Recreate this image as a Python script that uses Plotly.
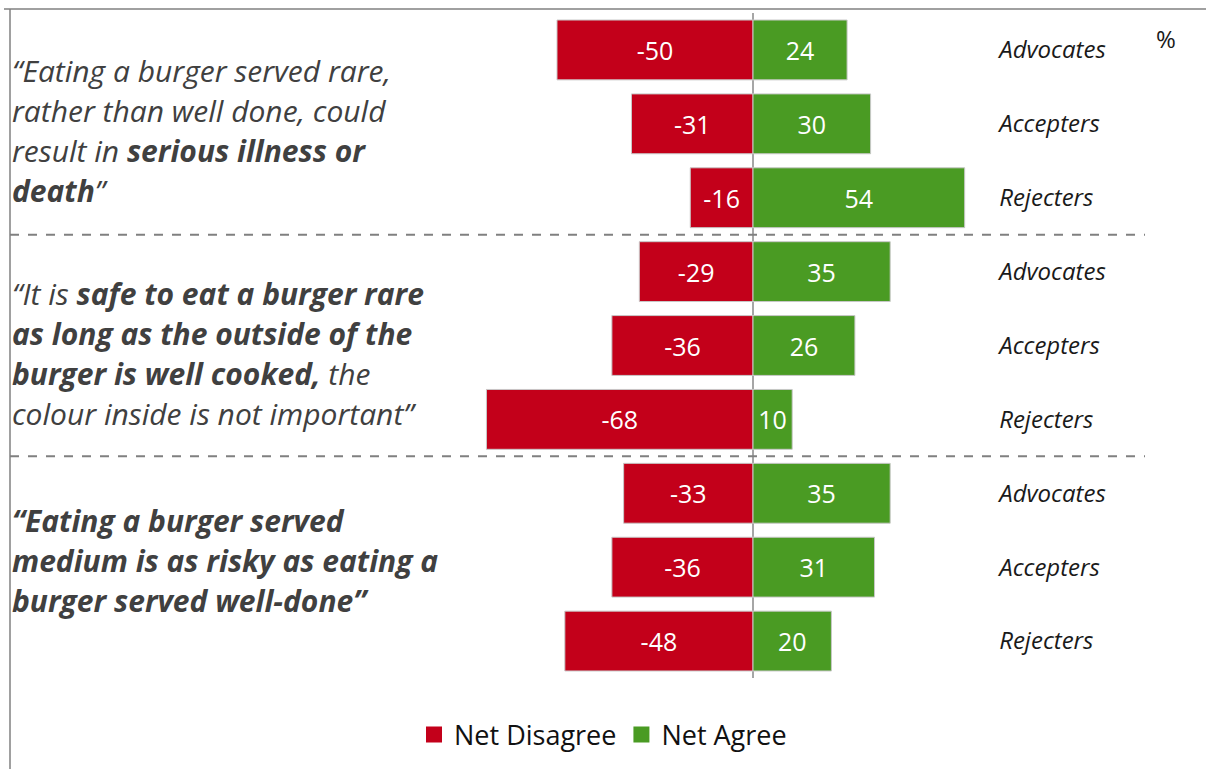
import plotly.graph_objects as go

# Segment rows, top to bottom (three statements x three segments)
segments = ["Advocates", "Accepters", "Rejecters",
            "Advocates", "Accepters", "Rejecters",
            "Advocates", "Accepters", "Rejecters"]
net_disagree = [-50, -31, -16, -29, -36, -68, -33, -36, -48]
net_agree = [24, 30, 54, 35, 26, 10, 35, 31, 20]
series_names = ["Net Disagree", "Net Agree"]

# Statement text, one entry per rendered line, grouped per statement
statement_lines = [
    ["<i>“Eating a burger served rare,</i>",
     "<i>rather than well done, could</i>",
     "<i>result in <b>serious illness or</b></i>",
     "<i><b>death</b>”</i>"],
    ["<i>“It is <b>safe to eat a burger rare</b></i>",
     "<i><b>as long as the outside of the</b></i>",
     "<i><b>burger is well cooked,</b> the</i>",
     "<i>colour inside is not important”</i>"],
    ["<i><b>“Eating a burger served</b></i>",
     "<i><b>medium is as risky as eating a</b></i>",
     "<i><b>burger served well-done”</b></i>"],
]
statement_line_y = [[70, 110, 150, 190], [294, 334, 374, 414], [520, 560, 600]]

W, H = 1206, 769
FONT = "Open Sans"
RED = "#C3001A"
GREEN = "#4A9B23"
colors = [RED, GREEN]
rows = list(range(len(segments)))

fig = go.Figure()
for name, vals, col in zip(series_names, [net_disagree, net_agree], colors):
    fig.add_trace(go.Bar(
        y=rows, x=vals, orientation="h", name=name, showlegend=False,
        marker=dict(color=col, line=dict(color="#C8C8C8", width=1)),
        text=[str(v) for v in vals], textposition="inside",
        insidetextanchor="middle", constraintext="none", textangle=0,
        textfont=dict(color="white", size=25, family=FONT),
    ))

# Legend entries with larger square swatches
for name, col in zip(series_names, colors):
    fig.add_trace(go.Scatter(
        x=[None], y=[None], mode="markers", name=name,
        marker=dict(symbol="square", size=16, color=col),
    ))

x_lo, x_hi = -80, 60
px_per_unit = 3.92
zero_px = 753
left_px = zero_px + x_lo * px_per_unit
right_px = zero_px + x_hi * px_per_unit
top_px, bot_px = 13, 678

fig.update_layout(
    width=W, height=H,
    margin=dict(l=0, r=0, t=0, b=0),
    paper_bgcolor="white", plot_bgcolor="white",
    barmode="relative", bargap=0.19,
    font=dict(family=FONT, color="#222222"),
    xaxis=dict(domain=[left_px / W, right_px / W], range=[x_lo, x_hi],
               showgrid=False, showticklabels=False, ticks="",
               zeroline=True, zerolinecolor="#A6A6A6", zerolinewidth=1.5),
    yaxis=dict(domain=[1 - bot_px / H, 1 - top_px / H], range=[8.5, -0.5],
               side="right", tickvals=rows, ticktext=segments, ticks="",
               showgrid=False, zeroline=False, ticklabelstandoff=10,
               tickfont=dict(size=24, style="italic", color="#1a1a1a", family=FONT)),
    legend=dict(orientation="h", x=0.5, xanchor="center", y=1 - 735 / H,
                yanchor="middle", font=dict(size=27, color="#111111", family=FONT),
                traceorder="normal", itemwidth=30, itemsizing="trace"),
    showlegend=True,
)

# Statement annotations
for lines, ys in zip(statement_lines, statement_line_y):
    for txt, ypx in zip(lines, ys):
        fig.add_annotation(xref="paper", yref="paper", x=10 / W, y=1 - ypx / H,
                           xanchor="left", yanchor="middle", showarrow=False,
                           text=txt, font=dict(size=30, color="#404040", family=FONT))

fig.add_annotation(xref="paper", yref="paper", x=1166 / W, y=1 - 38 / H,
                   xanchor="center", yanchor="middle", showarrow=False,
                   text="%", font=dict(size=24, color="#1a1a1a", family=FONT))

# Dashed separators between statements
for yv in (2.5, 5.5):
    fig.add_shape(type="line", xref="paper", yref="y", x0=10 / W, x1=1145 / W,
                  y0=yv, y1=yv, line=dict(color="#808080", width=2, dash="dash"))

# Frame lines along the top and left edges
fig.add_shape(type="line", xref="paper", yref="paper", x0=4 / W, x1=1,
              y0=1 - 9 / H, y1=1 - 9 / H, line=dict(color="#808080", width=1.5))
fig.add_shape(type="line", xref="paper", yref="paper", x0=10 / W, x1=10 / W,
              y0=0, y1=1 - 9 / H, line=dict(color="#808080", width=1.5))

fig.write_html("out.html")
